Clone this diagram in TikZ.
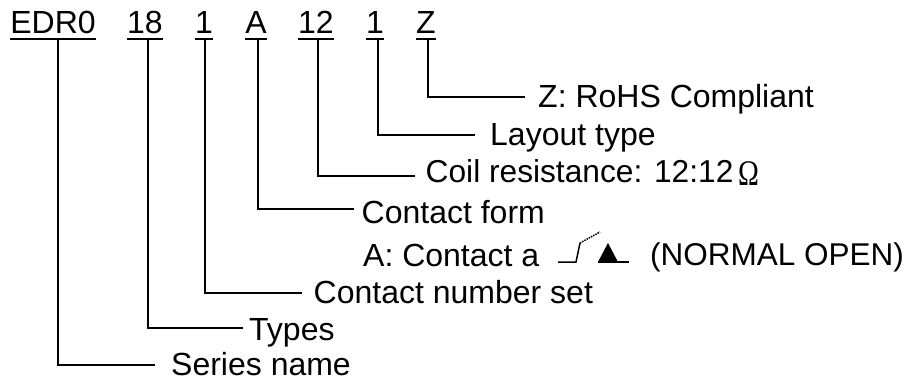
\documentclass[tikz,border=0pt]{standalone}
\usepackage{fontspec}
\setmainfont{Liberation Sans}
\newfontfamily\omegafont{Liberation Serif}
\begin{document}
\begin{tikzpicture}[x=1pt,y=-1pt,every node/.style={inner sep=0pt,font=\fontsize{32}{36}\selectfont},
    partline/.style={line width=2.2pt},
    leadline/.style={line width=1.5pt}]
    \useasboundingbox (0,0) rectangle (906,380);
    \node[anchor=base] (edr) at (53,34) {EDR0};
      \node[anchor=base] (18) at (145,34) {18};
      \node[anchor=base] (1a) at (204,34) {1};
      \node[anchor=base] (a) at (256,34) {A};
      \node[anchor=base] (12) at (316,34) {12};
      \node[anchor=base] (1b) at (375,34) {1};
      \node[anchor=base] (z) at (426,34) {Z};

      \draw[partline] (10,39) -- (96,39);
      \draw[partline] (127,39) -- (163,39);
      \draw[partline] (195,39) -- (213,39);
      \draw[partline] (245,39) -- (267,39);
      \draw[partline] (298,39) -- (334,39);
      \draw[partline] (366,39) -- (384,39);
      \draw[partline] (416,39) -- (436,39);

      \node[anchor=base west] (rohs) at (538,107) {Z: RoHS Compliant};
      \node[anchor=base west] (layout) at (490,145) {Layout type};
      \node[anchor=base west,font=\fontsize{31.7}{36}\selectfont] (coil) at (425.5,182) {Coil resistance: 12:12};
      \node[anchor=base west,xscale=0.78,font=\fontsize{36}{40}\selectfont\omegafont] (ohm) at (738,185) {Ω};
      \node[anchor=base west] (form) at (361.5,223) {Contact form};
      \node[anchor=base west] (conta) at (363,266) {A: Contact a};
      \node[anchor=base west,font=\fontsize{31.5}{36}\selectfont] (open) at (650,265) {(NORMAL OPEN)};
      \node[anchor=base west] (set) at (313.5,303) {Contact number set};
      \node[anchor=base west] (types) at (249,340) {Types};
      \node[anchor=base west] (series) at (171,375) {Series name};

      \coordinate (c1) at (155,365);
      \coordinate (c2) at (243,328);
      \coordinate (c3) at (302,293);
      \coordinate (c4) at (354,209);
      \coordinate (c5) at (415,176);
      \coordinate (c6) at (475,135);
      \coordinate (c7) at (525,97);

      \draw[leadline] (58,40) |- (c1);
      \draw[leadline] (148,40) |- (c2);
      \draw[leadline] (205,40) |- (c3);
      \draw[leadline] (258,40) |- (c4);
      \draw[leadline] (318,40) |- (c5);
      \draw[leadline] (378,40) |- (c6);
      \draw[leadline] (428,40) |- (c7);

      % contact symbol
      \draw[line width=1.5pt] (558,262) -- (576,262) -- (580,243);
      \draw[line width=1.5pt,densely dotted] (580,243) -- (600,232);
      \draw[line width=1.5pt] (598,262) -- (629,262);
      \fill (598,262) -- (608,243) -- (618,262) -- cycle;
\end{tikzpicture}
\end{document}
